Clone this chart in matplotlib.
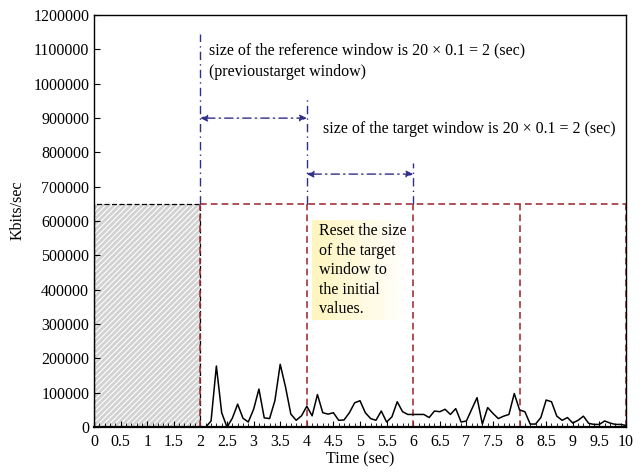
import numpy as np
import matplotlib.pyplot as plt
from matplotlib.patches import Rectangle
from matplotlib.ticker import MultipleLocator, FixedLocator
from matplotlib.colors import LinearSegmentedColormap

plt.rcParams['font.family'] = ['Liberation Serif', 'DejaVu Serif']
plt.rcParams['hatch.linewidth'] = 0.8

# 採樣時間 2.0 ~ 10.0 秒，每 0.1 秒一點
time_s = np.round(np.arange(2.0, 10.01, 0.1), 1)
kbits = [
    0, 0, 18000, 178000, 42000, 0, 26000, 67000, 26000, 15000,        # 2.0-2.9
    52000, 111000, 27000, 25000, 77000, 183000, 117000, 38000, 20000, 33000,  # 3.0-3.9
    61000, 33000, 95000, 42000, 38000, 42000, 20000, 21000, 42000, 71000,     # 4.0-4.9
    77000, 42000, 25000, 20000, 47000, 15000, 30000, 74000, 45000, 37000,     # 5.0-5.9
    37000, 37000, 37000, 28000, 47000, 45000, 52000, 37000, 54000, 15000,     # 6.0-6.9
    18000, 52000, 86000, 9000, 57000, 40000, 25000, 32000, 37000, 98000,      # 7.0-7.9
    50000, 45000, 9000, 9000, 28000, 79000, 74000, 32000, 20000, 28000,       # 8.0-8.9
    12000, 20000, 32000, 11000, 8000, 8000, 18000, 12000, 8000, 8000,         # 9.0-9.9
    5000,                                                                     # 10.0
]

ref_start, ref_end = 0, 2          # 陰影區（初始視窗）
window_edges = [2, 4, 6, 8, 10]    # 目標視窗邊界
window_top = 650000

x_ticks = [0, 0.5, 1, 1.5, 2, 2.5, 3, 3.5, 4, 4.5, 5, 5.5, 6, 6.5, 7, 7.5, 8, 8.5, 9, 9.5, 10]
x_tick_labels = ["0", "0.5", "1", "1.5", "2", "2.5", "3", "3.5", "4", "4.5", "5",
                 "5.5", "6", "6.5", "7", "7.5", "8", "8.5", "9", "9.5", "10"]

red = "#a2333a"
blue = "#2e2e8c"
fs = 11.5

fig = plt.figure(figsize=(6.44, 4.72), dpi=100)
ax = fig.add_axes([0.146, 0.095, 0.826, 0.873])

# ---- 陰影區 ----
ax.add_patch(Rectangle((ref_start, 0), ref_end - ref_start, window_top,
                       facecolor="#d2d2d2", edgecolor="none", zorder=1))
ax.add_patch(Rectangle((ref_start, 0), ref_end - ref_start, window_top,
                       facecolor="none", edgecolor="white", hatch="//////",
                       linewidth=0, zorder=1.5))
ax.add_patch(Rectangle((ref_start, 0), ref_end - ref_start, window_top,
                       facecolor="none", edgecolor="black", linestyle=(0, (4, 2)),
                       linewidth=0.9, zorder=2))

# ---- 紅色虛線視窗 ----
ax.plot([window_edges[0], window_edges[-1]], [window_top, window_top],
        color=red, linestyle=(0, (4, 2.5)), linewidth=1.2, zorder=2)
ax.plot([window_edges[0], window_edges[-1]], [0, 0],
        color=red, linestyle=(0, (4, 2.5)), linewidth=1.2, zorder=2)
for xe in window_edges:
    ax.plot([xe, xe], [0, window_top], color=red, linestyle=(0, (4, 2.5)),
            linewidth=1.2, zorder=2)

# ---- 藍色點劃線與箭頭 ----
dashdot = (0, (6, 3, 1, 3))
ax.plot([2, 2], [window_top, 1145000], color=blue, linestyle=dashdot, linewidth=1.0, zorder=2)
ax.plot([4, 4], [window_top, 960000], color=blue, linestyle=dashdot, linewidth=1.0, zorder=2)
ax.plot([6, 6], [window_top, 770000], color=blue, linestyle=dashdot, linewidth=1.0, zorder=2)

for (x0, x1, yy) in [(2, 4, 900000), (4, 6, 737000)]:
    ax.annotate("", xy=(x0, yy), xytext=(x1, yy),
                arrowprops=dict(arrowstyle="<|-|>", color=blue, lw=1.0,
                                linestyle=dashdot, shrinkA=0, shrinkB=0,
                                mutation_scale=10))

ax.text(2.16, 1098000, "size of the reference window is 20 × 0.1 = 2 (sec)",
        fontsize=fs, va="center", ha="left")
ax.text(2.16, 1034000, "(previoustarget window)", fontsize=fs, va="center", ha="left")
ax.text(4.3, 868000, "size of the target window is 20 × 0.1 = 2 (sec)",
        fontsize=fs, va="center", ha="left")

# ---- 黃色漸層說明框 ----
grad = np.linspace(0, 1, 64).reshape(1, -1)
ycmap = LinearSegmentedColormap.from_list("yel", ["#fff5bd", "#ffffff"])
ax.imshow(grad, cmap=ycmap, extent=[4.1, 5.9, 312000, 603000],
          aspect="auto", zorder=1.2)
ax.text(4.22, 457000, "Reset the size\nof the target\nwindow to\nthe initial\nvalues.",
        fontsize=fs, va="center", ha="left", linespacing=1.3, zorder=3)

# ---- 流量曲線 ----
ax.plot(time_s, kbits, color="black", linewidth=1.1, zorder=4)

ax.set_xlim(0, 10)
ax.set_ylim(0, 1200000)
ax.xaxis.set_major_locator(FixedLocator(x_ticks))
ax.set_xticklabels(x_tick_labels)
ax.xaxis.set_minor_locator(MultipleLocator(0.1))
ax.yaxis.set_major_locator(MultipleLocator(100000))
ax.ticklabel_format(axis="y", style="plain")
ax.tick_params(axis="both", which="both", direction="in", labelsize=fs,
               top=False, right=False)
ax.tick_params(axis="x", which="major", length=4, pad=5)
ax.tick_params(axis="x", which="minor", length=3)
ax.tick_params(axis="y", which="major", length=4)
for s in ax.spines.values():
    s.set_linewidth(1.0)
ax.spines["bottom"].set_linewidth(1.6)

ax.set_xlabel("Time (sec)", fontsize=fs, labelpad=1)
ax.set_ylabel("Kbits/sec", fontsize=fs)
ax.yaxis.set_label_coords(-0.128, 0.526)

fig.savefig("out.png", dpi=100)
